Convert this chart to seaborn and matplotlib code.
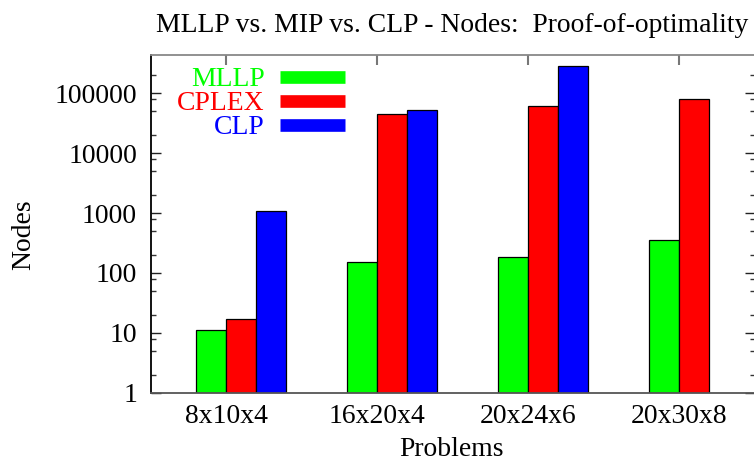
import numpy as np
import pandas as pd
import matplotlib
matplotlib.use("Agg")
import matplotlib.pyplot as plt
import seaborn as sns
from matplotlib.ticker import LogLocator, NullFormatter

# ---- data ----
problems = ["8x10x4", "16x20x4", "20x24x6", "20x30x8"]
mllp = [11, 155, 182, 354]
cplex = [17, 44400, 60400, 79100]
clp = [1100, 53000, 288000, np.nan]
series_names = ["MLLP", "CPLEX", "CLP"]
series_colors = ["#00ff00", "#ff0000", "#0000ff"]
ytick_vals = [1, 10, 100, 1000, 10000, 100000]
ytick_labels = ["1", "10", "100", "1000", "10000", "100000"]

title = "MLLP vs. MIP vs. CLP - Nodes:  Proof-of-optimality"
xlabel = "Problems"
ylabel = "Nodes"

rows = []
for name, vals in zip(series_names, [mllp, cplex, clp]):
    for p, v in zip(problems, vals):
        rows.append({"Problem": p, "Solver": name, "Nodes": v})
df = pd.DataFrame(rows).dropna()

sns.set_style("white")
plt.rcParams["font.family"] = ["Liberation Serif", "DejaVu Serif"]
plt.rcParams["text.color"] = "black"
plt.rcParams["xtick.labelcolor"] = "black"
plt.rcParams["ytick.labelcolor"] = "black"
FS = 19.9

W, H = 754, 462
fig = plt.figure(figsize=(W / 100, H / 100), dpi=100)
ax_l, ax_r = 150.5, 754.5
ax_t, ax_b = 54.7, 392.7
ax = fig.add_axes([ax_l / W, 1 - ax_b / H, (ax_r - ax_l) / W, (ax_b - ax_t) / H])
ax.set_yscale("log")

sns.barplot(data=df, x="Problem", y="Nodes", hue="Solver", order=problems,
            hue_order=series_names, palette=series_colors, width=0.6,
            dodge=True, saturation=1, edgecolor="black", linewidth=0.9,
            legend=False, ax=ax, errorbar=None)

ax.set_ylim(1, 4.4e5)
ax.set_xlim(-0.6, 3.4)

ax.set_xticks(np.arange(len(problems)) - 0.1)
ax.set_xticklabels(problems, fontsize=FS, color="black")
ax.set_yticks(ytick_vals)
ax.set_yticklabels(ytick_labels, fontsize=FS, color="black")
ax.yaxis.set_minor_locator(LogLocator(base=10, subs=[2, 5, 8]))
ax.yaxis.set_minor_formatter(NullFormatter())

ax.tick_params(axis="y", which="major", direction="in", length=7, width=1,
               left=True, right=True, pad=9.7, color="#222222")
ax.tick_params(axis="y", which="minor", direction="in", length=3.4, width=1,
               left=True, right=True, color="#333333")
ax.tick_params(axis="x", which="major", direction="in", length=7, width=1.5,
               bottom=False, top=True, pad=8.4, color="#777777")

ax.set_xlabel("")
ax.set_ylabel("")
for side, col in [("left", "black"), ("bottom", "#555555"), ("top", "#888888")]:
    ax.spines[side].set_color(col)
    ax.spines[side].set_linewidth(1.3)
    ax.spines[side].set_visible(True)
ax.spines["right"].set_visible(False)

# title and axis labels
cx = (ax_l + 753) / 2 / W
fig.text(cx, 1 - 32.3 / H, title, ha="center", va="baseline", fontsize=FS)
fig.text(cx, 0.5 / H, xlabel, ha="center", va="bottom", fontsize=FS)
fig.text(24.0 / W, 1 - 235 / H, ylabel, ha="center", va="center",
         rotation=90, fontsize=FS)

# legend (text right-aligned, swatch to the right)
def ax_y(py):
    return (ax_b - py) / (ax_b - ax_t)

def ax_x(px):
    return (px - ax_l) / (ax_r - ax_l)

base_ys = [86.5, 110.2, 134.0]
for name, col, by in zip(series_names, series_colors, base_ys):
    ax.text(ax_x(265), ax_y(by), name, color=col, ha="right", va="baseline",
            fontsize=FS, transform=ax.transAxes)
    ax.plot([ax_x(280), ax_x(345)], [ax_y(by - 9.5)] * 2, color=col,
            lw=9.1, solid_capstyle="butt", transform=ax.transAxes,
            clip_on=False)

fig.savefig("out.png", dpi=100)
